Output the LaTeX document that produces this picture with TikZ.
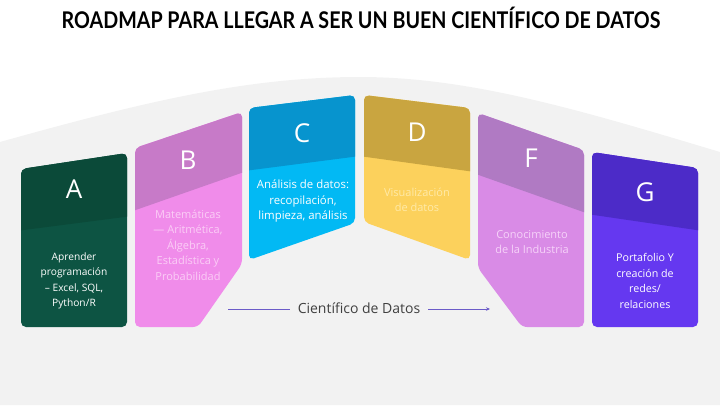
\documentclass[tikz,border=0pt]{standalone}
\usepackage{fontspec}
\setmainfont{Open Sans}
\newfontfamily\titlefont{Lato}
\usetikzlibrary{arrows.meta}

\definecolor{bgGray}{HTML}{F2F2F2}
\definecolor{aTop}{HTML}{0B4A39}
\definecolor{aBot}{HTML}{0D5443}
\definecolor{bTop}{HTML}{C77AC8}
\definecolor{bBot}{HTML}{F08CEA}
\definecolor{bTxt}{HTML}{FBCDF6}
\definecolor{cTop}{HTML}{0794CE}
\definecolor{cBot}{HTML}{02B9F4}
\definecolor{dTop}{HTML}{C9A540}
\definecolor{dBot}{HTML}{FCD15C}
\definecolor{dTxt}{HTML}{FFEAA8}
\definecolor{fTop}{HTML}{B07AC3}
\definecolor{fBot}{HTML}{D98BE6}
\definecolor{fTxt}{HTML}{F6D2F9}
\definecolor{gTop}{HTML}{4C2BC8}
\definecolor{gBot}{HTML}{6538F0}
\definecolor{lineCol}{HTML}{6B5BC8}

\begin{document}
\begin{tikzpicture}[x=1pt,y=-1pt,
  letter/.style={text=white,font=\fontsize{26}{26}\selectfont},
  info/.style={align=center,font=\fontsize{#1}{15.5}\selectfont},
  info/.default=10.5,
  card/.style={rounded corners=5pt}]
\useasboundingbox (0,0) rectangle (720,405);

% background
\fill[bgGray] (0,142) .. controls (150,100) and (250,77) .. (360,77)
  .. controls (470,77) and (580,110) .. (720,152) -- (720,405) -- (0,405) -- cycle;

\node (title) at (361,18) {\titlefont\bfseries\fontsize{23}{23}\selectfont
  \scalebox{0.855}[1]{ROADMAP PARA LLEGAR A SER UN BUEN CIENTÍFICO DE DATOS}};

% A
\begin{scope}
\clip[card] (21,169) -- (127,153) -- (127,327) -- (21,327) -- cycle;
\fill[aBot] (0,0) rectangle (720,405);
\fill[aTop] (16,100) -- (132,100) -- (132,216) -- (16,231) -- cycle;
\end{scope}
\node[letter] (la) at (74,189) {A};
\node[info=10.2,text=white] (ta) at (74,281) {Aprender\\programación\\– Excel, SQL,\\Python/R};

% B
\begin{scope}
\clip[card] (135,148) -- (242,112) -- (242,264) -- (198,327) -- (135,327) -- cycle;
\fill[bBot] (0,0) rectangle (720,405);
\fill[bTop] (130,100) -- (247,100) -- (247,171) -- (130,212) -- cycle;
\end{scope}
\node[letter] (lb) at (188,160) {B};
\node[info=11,text=bTxt] (tb) at (188,245) {Matemáticas\\— Aritmética,\\Álgebra,\\Estadística y\\Probabilidad};

% C
\begin{scope}
\clip[card] (249,108) -- (355,95) -- (355,223) -- (249,260) -- cycle;
\fill[cBot] (0,0) rectangle (720,405);
\fill[cTop] (244,80) -- (360,80) -- (360,156) -- (244,171) -- cycle;
\end{scope}
\node[letter] (lc) at (302,133) {C};
\node[info=11.4,text=white] (tc) at (303,201) {Análisis de datos:\\recopilación,\\limpieza, análisis};

% D
\begin{scope}
\clip[card] (364,95) -- (470,108) -- (470,260) -- (364,222) -- cycle;
\fill[dBot] (0,0) rectangle (720,405);
\fill[dTop] (359,80) -- (475,80) -- (475,172) -- (359,156) -- cycle;
\end{scope}
\node[letter] (ld) at (417,132) {D};
\node[info=11,text=dTxt] (td) at (417,200) {Visualización\\de datos};

% F
\begin{scope}
\clip[card] (478,113) -- (584,150) -- (584,327) -- (522,327) -- (478,268) -- cycle;
\fill[fBot] (0,0) rectangle (720,405);
\fill[fTop] (473,100) -- (589,100) -- (589,214) -- (473,173) -- cycle;
\end{scope}
\node[letter] (lf) at (531,158) {F};
\node[info=11,text=fTxt] (tf) at (532,242) {Conocimiento\\de la Industria};

% G
\begin{scope}
\clip[card] (592,152) -- (698,168) -- (698,327) -- (592,327) -- cycle;
\fill[gBot] (0,0) rectangle (720,405);
\fill[gTop] (587,100) -- (703,100) -- (703,231) -- (587,214) -- cycle;
\end{scope}
\node[letter] (lg) at (645,192) {G};
\node[info=10.7,text=white] (tg) at (645,281) {Portafolio Y\\creación de\\redes/\\relaciones};

% bottom arrow
\coordinate (arrL) at (228,309);
\coordinate (arrR) at (490,309);
\node[inner xsep=8pt,text=black!75,font=\fontsize{14}{14}\selectfont] (sci) at (359,308) {Científico de Datos};
\draw[lineCol,line width=0.7pt] (arrL) -- (arrL -| sci.west);
\draw[lineCol,line width=0.7pt,-{Stealth[length=4pt,width=3.5pt]}] (arrR -| sci.east) -- (arrR);
\end{tikzpicture}
\end{document}
